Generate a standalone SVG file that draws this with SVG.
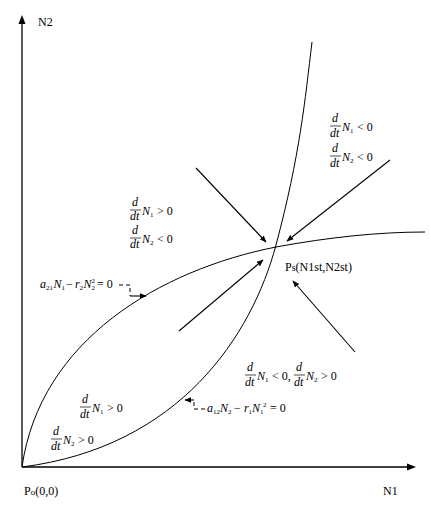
<svg xmlns="http://www.w3.org/2000/svg" width="431" height="505" viewBox="0 0 431 505">
<style>
text{font-family:"Liberation Serif","Times New Roman",serif;fill:#000}
.lbl{font-size:12px}
.m{font-size:12px;font-style:italic}
.n{font-size:12px}
.s{font-size:7px}
.ln{stroke:#000;stroke-width:1;fill:none}
.ax{stroke:#000;stroke-width:1.3;fill:none}
.ar{stroke:#000;stroke-width:1.1;fill:none;marker-end:url(#ah)}
.dash{stroke:#000;stroke-width:1;fill:none;stroke-dasharray:4,3}
.bar{stroke:#000;stroke-width:0.7}
</style>
<defs>
<marker id="ah" viewBox="0 0 10 10" refX="9" refY="5" markerWidth="7" markerHeight="7" markerUnits="userSpaceOnUse" orient="auto">
<path d="M0,1 L10,5 L0,9 z" fill="#000"/>
</marker>
</defs>
<rect width="431" height="505" fill="#fff"/>
<g id="axes">
<line class="ax" x1="22" y1="467" x2="22" y2="24"/>
<path d="M18.5,24 L22,15 L25.5,24 z" fill="#000"/>
<line class="ax" x1="22" y1="467" x2="407" y2="467"/>
<path d="M407,463.5 L416,467 L407,470.5 z" fill="#000"/>
<text class="lbl" x="38" y="26">N2</text>
<text class="lbl" x="383" y="495">N1</text>
<text class="lbl" x="24" y="495">P<tspan font-size="9">o</tspan>(0,0)</text>
</g>
<g id="curves">
<path id="isocline1" class="ln" d="M22,467 C180,447 252,335 276,245 S305,100 312,42"/>
<path id="isocline2" class="ln" d="M22,467 C40,340 160,270 276,247 C330,237 380,232 425,232"/>
</g>
<g id="connectors">
<line class="ar" x1="196" y1="168" x2="266" y2="242"/>
<line class="ar" x1="390" y1="160" x2="287" y2="241"/>
<line class="ar" x1="179" y1="331" x2="263" y2="260"/>
<line class="ar" x1="355" y1="352" x2="293" y2="281"/>
<polyline class="dash" points="119,285 130,285 130,296"/>
<line class="ar" x1="130" y1="296" x2="146" y2="296"/>
<polyline class="dash" points="205,409 194,409 194,400"/>
<line class="ar" x1="194" y1="400" x2="185" y2="400"/>
</g>
<g id="equilibrium">
<text class="lbl" x="285" y="271">P<tspan font-size="10">s</tspan>(N1st,N2st)</text>
</g>
<g id="regionTR">
<text class="m" x="332" y="122">d</text><line class="bar" x1="330" y1="126" x2="341" y2="126"/><text class="m" x="330" y="137">dt</text>
<text class="m" x="342" y="131">N</text><text class="s" x="350" y="133">1</text><text class="n" x="357" y="131">&lt; 0</text>
<text class="m" x="332" y="152">d</text><line class="bar" x1="330" y1="156" x2="341" y2="156"/><text class="m" x="330" y="167">dt</text>
<text class="m" x="342" y="161">N</text><text class="s" x="350" y="163">2</text><text class="n" x="357" y="161">&lt; 0</text>
</g>
<g id="regionTL">
<text class="m" x="132" y="206">d</text><line class="bar" x1="130" y1="210" x2="141" y2="210"/><text class="m" x="130" y="220">dt</text>
<text class="m" x="142" y="215">N</text><text class="s" x="150" y="217">1</text><text class="n" x="157" y="215">&gt; 0</text>
<text class="m" x="132" y="234">d</text><line class="bar" x1="130" y1="238" x2="141" y2="238"/><text class="m" x="130" y="248">dt</text>
<text class="m" x="142" y="243">N</text><text class="s" x="150" y="245">2</text><text class="n" x="157" y="243">&lt; 0</text>
</g>
<g id="regionBR">
<text class="m" x="247" y="371">d</text><line class="bar" x1="245" y1="375" x2="256" y2="375"/><text class="m" x="245" y="386">dt</text>
<text class="m" x="257" y="380">N</text><text class="s" x="265" y="382">1</text><text class="n" x="272" y="380">&lt; 0,</text>
<text class="m" x="296" y="371">d</text><line class="bar" x1="294" y1="375" x2="305" y2="375"/><text class="m" x="294" y="386">dt</text>
<text class="m" x="306" y="380">N</text><text class="s" x="314" y="382">2</text><text class="n" x="321" y="380">&gt; 0</text>
</g>
<g id="regionBL">
<text class="m" x="82" y="403">d</text><line class="bar" x1="80" y1="407" x2="91" y2="407"/><text class="m" x="80" y="418">dt</text>
<text class="m" x="92" y="412">N</text><text class="s" x="100" y="414">1</text><text class="n" x="107" y="412">&gt; 0</text>
<text class="m" x="53" y="435">d</text><line class="bar" x1="51" y1="439" x2="62" y2="439"/><text class="m" x="51" y="450">dt</text>
<text class="m" x="63" y="444">N</text><text class="s" x="71" y="446">2</text><text class="n" x="78" y="444">&gt; 0</text>
</g>
<g id="eq1">
<text class="m" x="40" y="288">a</text><text class="s" x="46" y="290">21</text>
<text class="m" x="53.5" y="288">N</text><text class="s" x="61.5" y="290">1</text>
<text class="n" x="66" y="288">−</text>
<text class="m" x="75" y="288">r</text><text class="s" x="79.5" y="290">2</text>
<text class="m" x="83.5" y="288">N</text><text class="s" x="91.5" y="290">2</text><text class="s" x="91.5" y="283">2</text>
<text class="n" x="97" y="288">= 0</text>
</g>
<g id="eq2">
<text class="m" x="207" y="412">a</text><text class="s" x="213" y="414">12</text>
<text class="m" x="220" y="412">N</text><text class="s" x="228" y="414">2</text>
<text class="n" x="234" y="412">−</text>
<text class="m" x="244" y="412">r</text><text class="s" x="248.5" y="414">1</text>
<text class="m" x="252" y="412">N</text><text class="s" x="260" y="414">1</text><text class="s" x="263" y="407">2</text>
<text class="n" x="270" y="412">= 0</text>
</g>
</svg>
